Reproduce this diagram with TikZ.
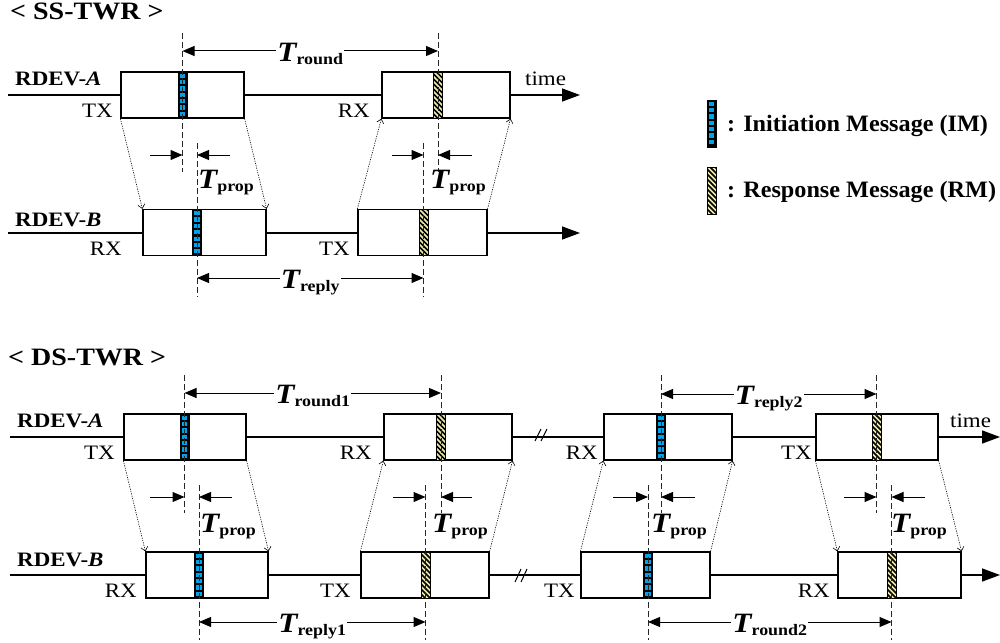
\documentclass[tikz,border=0pt]{standalone}
\usepackage{fontspec}
\setmainfont{Liberation Serif}[FakeStretch=1.12]
\newfontfamily\legfont{Liberation Serif}[FakeStretch=1.03]
\usetikzlibrary{arrows.meta,calc}
\definecolor{imblue}{RGB}{0,162,232}
\definecolor{rmyel}{RGB}{236,232,168}
\newcommand\Tl[1]{{\fontsize{28}{28}\selectfont\bfseries\itshape T}\raisebox{-3pt}{\fontsize{16}{17}\selectfont\bfseries #1}}
\tikzset{
  msgbox/.style={draw=black, line width=1.2pt, fill=white, minimum height=46, inner sep=0},
  imbar/.style={draw=black, fill=black, line width=0.6pt, minimum width=9, minimum height=46, inner sep=0,
    path picture={\foreach \i in {0,...,6}{\fill[imblue] ($(path picture bounding box.north west)+(1.8,1.6+\i*6.35)$) rectangle ++(5.4,4.2);}}},
  rmbar/.style={draw=black, fill=rmyel, line width=0.6pt, minimum width=9, minimum height=46, inner sep=0,
    path picture={\foreach \i in {-3,...,10}{\draw[line width=1.5pt] ($(path picture bounding box.north west)+(-2,\i*5)$) -- ++(13,13);}}},
  tline/.style={line width=1.4pt, -{Triangle[length=18,width=13]}},
  vdash/.style={draw=black!85, line width=0.8pt, dash pattern=on 6pt off 3pt},
  dim/.style={line width=1pt, {Triangle[length=12,width=10]}-{Triangle[length=12,width=10]}},
  parr/.style={line width=1pt, -{Triangle[length=12,width=10]}},
  dotarr/.style={line width=0.6pt, dash pattern=on 1.2pt off 1.2pt, -{Straight Barb[length=4,width=7]}},
  tl/.style={inner sep=1pt, fill=white, anchor=base, yshift=-10pt},
  tpl/.style={inner sep=0, anchor=base west},
  lab/.style={font=\fontsize{20.5}{22}\selectfont, inner sep=0},
  dev/.style={font=\fontsize{20.5}{22}\selectfont\bfseries, inner sep=0, anchor=base west},
  ttl/.style={font=\fontsize{25}{27}\selectfont\bfseries, inner sep=0, anchor=base west},
  leg/.style={font=\legfont\fontsize{23.5}{25}\selectfont\bfseries, inner sep=0, anchor=base west},
  brk/.style={line width=1pt}
}
\begin{document}
\begin{tikzpicture}[x=1pt,y=-1pt]
\useasboundingbox (0,0) rectangle (1000,642);
% ================= SS-TWR =================
\node[ttl] (sstitle) at (10,20) {< SS-TWR >};
\coordinate (sa0) at (8,95); \coordinate (sa9) at (580,95);
\coordinate (sb0) at (8,233); \coordinate (sb9) at (580,233);
\draw[tline] (sa0) -- (sa9);
\draw[tline] (sb0) -- (sb9);
\node[msgbox, minimum width=123] (sa1) at (182.5,95) {};
\node[msgbox, minimum width=128] (sa2) at (446,95) {};
\node[msgbox, minimum width=123] (sb1) at (204.5,232.5) {};
\node[msgbox, minimum width=129] (sb2) at (422.5,232.5) {};
\node[imbar] (sa1m) at (182.5,95) {};
\node[rmbar] (sa2m) at (438,95) {};
\node[imbar] (sb1m) at (197,232.5) {};
\node[rmbar] (sb2m) at (423.5,232.5) {};
\draw[vdash] (sa1m |- 0,33) -- (sa1m |- 0,172);
\draw[vdash] (sa2m |- 0,33) -- (sa2m |- 0,172);
\draw[vdash] (sb1m |- 0,143) -- (sb1m |- 0,297);
\draw[vdash] (sb2m |- 0,143) -- (sb2m |- 0,297);
\draw[dim] (sa1m |- 0,51) -- (sa2m |- 0,51) node[midway, tl] (stround) {\Tl{round}};
\draw[dim] (sb1m |- 0,278) -- (sb2m |- 0,278) node[midway, tl] (streply) {\Tl{reply}};
\coordinate (sp1) at (150,155); \coordinate (sp2) at (230,155);
\coordinate (sp3) at (392,155); \coordinate (sp4) at (472,155);
\draw[parr] (sp1) -- (sa1m |- sp1);
\draw[parr] (sp2) -- (sb1m |- sp2);
\draw[parr] (sp3) -- (sb2m |- sp3);
\draw[parr] (sp4) -- (sa2m |- sp4);
\node[tpl] (stp1) at (198,188) {\Tl{prop}};
\node[tpl] (stp2) at (430,188) {\Tl{prop}};
\draw[dotarr] (sa1.south west) -- (sb1.north west);
\draw[dotarr] (sa1.south east) -- (sb1.north east);
\draw[dotarr] (sb2.north west) -- (sa2.south west);
\draw[dotarr] (sb2.north east) -- (sa2.south east);
\node[dev] (sdeva) at (15,85) {RDEV-\textit{A}};
\node[dev] (sdevb) at (15,226) {RDEV-\textit{B}};
\node[lab, anchor=base east] (stx1) at (113,117) {TX};
\node[lab, anchor=base east] (srx1) at (370,117) {RX};
\node[lab, anchor=base east] (srx2) at (122,255) {RX};
\node[lab, anchor=base east] (stx2) at (350,255) {TX};
\node[lab, anchor=base west] (stime) at (525,85) {time};
% ================= Legend =================
\node[imbar, minimum height=47] (legim) at (711.5,123.5) {};
\node[leg] (legimt) at (727,131) {: Initiation Message (IM)};
\node[rmbar, minimum height=47] (legrm) at (711.5,190.5) {};
\node[leg] (legrmt) at (727,197) {: Response Message (RM)};
% ================= DS-TWR =================
\node[ttl] (dstitle) at (8,365) {< DS-TWR >};
\coordinate (da0) at (10,437); \coordinate (da9) at (1000,437);
\coordinate (db0) at (10,575); \coordinate (db9) at (1000,575);
\draw[tline] (da0) -- (da9);
\draw[tline] (db0) -- (db9);
\draw[brk] (535,441) -- (541,429); \draw[brk] (541,441) -- (547,429);
\draw[brk] (515,582) -- (521,569); \draw[brk] (521,582) -- (527,569);
\node[msgbox, minimum width=122] (da1) at (185,437) {};
\node[msgbox, minimum width=128] (da2) at (448,437) {};
\node[msgbox, minimum width=128] (da3) at (668,437) {};
\node[msgbox, minimum width=122] (da4) at (877,437) {};
\node[msgbox, minimum width=122] (db1) at (207,575) {};
\node[msgbox, minimum width=128] (db2) at (425,575) {};
\node[msgbox, minimum width=129] (db3) at (645.5,575) {};
\node[msgbox, minimum width=123] (db4) at (899.5,575) {};
\node[imbar] (da1m) at (184.5,437) {};
\node[rmbar] (da2m) at (441,437) {};
\node[imbar] (da3m) at (661,437) {};
\node[rmbar] (da4m) at (876.5,437) {};
\node[imbar] (db1m) at (199,575) {};
\node[rmbar] (db2m) at (425.5,575) {};
\node[imbar] (db3m) at (648,575) {};
\node[rmbar] (db4m) at (891.5,575) {};
\foreach \m in {da1m,da2m,da3m,da4m}{\draw[vdash] (\m |- 0,375) -- (\m |- 0,513);}
\foreach \m in {db1m,db2m,db3m,db4m}{\draw[vdash] (\m |- 0,485) -- (\m |- 0,640);}
\draw[dim] (da1m |- 0,393) -- (da2m |- 0,393) node[midway, tl] (dtround1) {\Tl{round1}};
\draw[dim] (da3m |- 0,394) -- (da4m |- 0,394) node[midway, tl] (dtreply2) {\Tl{reply2}};
\draw[dim] (db1m |- 0,622) -- (db2m |- 0,622) node[midway, tl] (dtreply1) {\Tl{reply1}};
\draw[dim] (db3m |- 0,622) -- (db4m |- 0,622) node[midway, tl] (dtround2) {\Tl{round2}};
\coordinate (dp1) at (150,497); \coordinate (dp2) at (232,497);
\coordinate (dp3) at (393,497); \coordinate (dp4) at (472,497);
\coordinate (dp5) at (613,497); \coordinate (dp6) at (695,497);
\coordinate (dp7) at (844,497); \coordinate (dp8) at (925,497);
\draw[parr] (dp1) -- (da1m |- dp1);
\draw[parr] (dp2) -- (db1m |- dp2);
\draw[parr] (dp3) -- (db2m |- dp3);
\draw[parr] (dp4) -- (da2m |- dp4);
\draw[parr] (dp5) -- (db3m |- dp5);
\draw[parr] (dp6) -- (da3m |- dp6);
\draw[parr] (dp7) -- (da4m |- dp7);
\draw[parr] (dp8) -- (db4m |- dp8);
\node[tpl] (dtp1) at (200,532) {\Tl{prop}};
\node[tpl] (dtp2) at (432,532) {\Tl{prop}};
\node[tpl] (dtp3) at (651,532) {\Tl{prop}};
\node[tpl] (dtp4) at (891,532) {\Tl{prop}};
\draw[dotarr] (da1.south west) -- (db1.north west);
\draw[dotarr] (da1.south east) -- (db1.north east);
\draw[dotarr] (db2.north west) -- (da2.south west);
\draw[dotarr] (db2.north east) -- (da2.south east);
\draw[dotarr] (db3.north west) -- (da3.south west);
\draw[dotarr] (db3.north east) -- (da3.south east);
\draw[dotarr] (da4.south west) -- (db4.north west);
\draw[dotarr] (da4.south east) -- (db4.north east);
\node[dev] (ddeva) at (17,427) {RDEV-\textit{A}};
\node[dev] (ddevb) at (17,566) {RDEV-\textit{B}};
\node[lab, anchor=base east] (dtx1) at (115,459) {TX};
\node[lab, anchor=base east] (drx1) at (372,459) {RX};
\node[lab, anchor=base east] (drx2) at (598,459) {RX};
\node[lab, anchor=base east] (dtx2) at (812,459) {TX};
\node[lab, anchor=base west] (dtime) at (950,427) {time};
\node[lab, anchor=base east] (drx3) at (137,597) {RX};
\node[lab, anchor=base east] (dtx3) at (351,597) {TX};
\node[lab, anchor=base east] (dtx4) at (575,597) {TX};
\node[lab, anchor=base east] (drx4) at (830,597) {RX};
\end{tikzpicture}
\end{document}
